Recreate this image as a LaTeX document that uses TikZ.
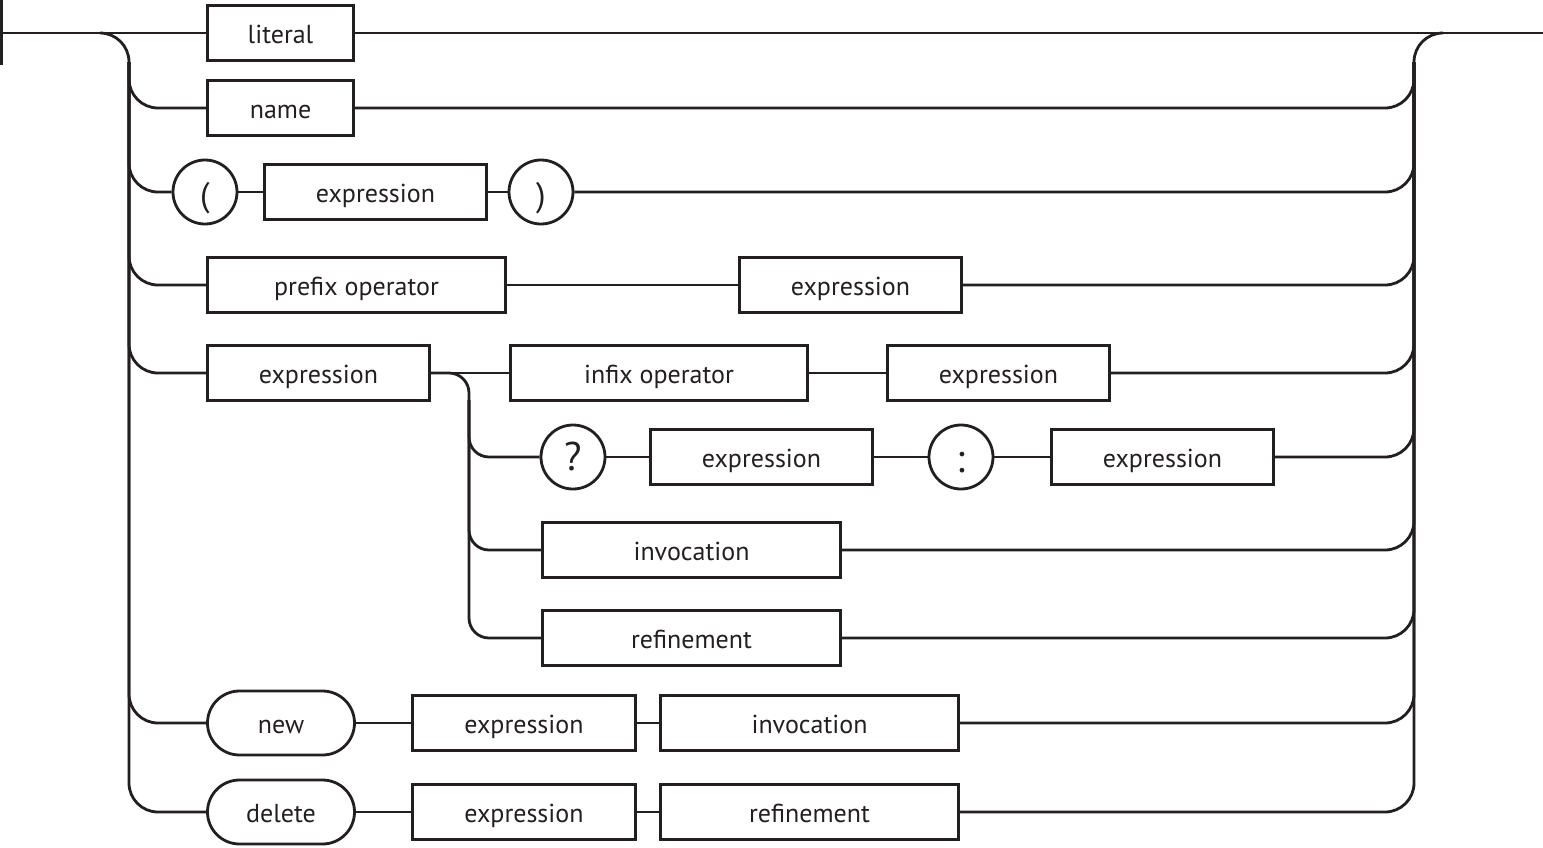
\documentclass[tikz,border=0pt]{standalone}
\usepackage{fontspec}
\setmainfont{PT Sans}
\definecolor{ink}{HTML}{231F20}
\begin{document}
\begin{tikzpicture}[x=1pt,y=-1pt,line width=2.8pt,draw=ink,
  every node/.style={text=ink,font=\fontsize{26}{30}\selectfont,inner sep=0pt,text height=22pt,text depth=2pt},
  nt/.style={draw=ink,rectangle,minimum height=55pt,minimum width=#1},
  tc/.style={draw=ink,circle,minimum size=64pt},
  paren/.style={font=\fontsize{34}{40}\selectfont,text height=30pt,text depth=2pt},
  qmark/.style={font=\fontsize{40}{46}\selectfont,text height=28pt,text depth=2pt},
  colon/.style={font=\fontsize{40}{46}\selectfont,text height=32pt,text depth=2pt},
  tw/.style={draw=ink,rectangle,rounded corners=32pt,minimum height=64pt,minimum width=147pt},
  rc/.style={rounded corners=29pt},
  rs/.style={rounded corners=20pt}]
\useasboundingbox (0,0) rectangle (1543,847);
% coordinates
\coordinate (start) at (1.4,33);
\coordinate (ticktop) at (1.4,0);
\coordinate (tickbot) at (1.4,65);
\coordinate (stop) at (1543,33);
\coordinate (lstart) at (100,33);
\coordinate (ldown) at (129,812);
\coordinate (ltop) at (129,62);
\coordinate (rtop) at (1414,62);
\coordinate (rcorner) at (1414,33);
\coordinate (rend) at (1443,33);
\coordinate (srail) at (469,638);
\coordinate (stop2) at (469,400);
% nodes
\node[nt=146pt] (lit) at (280.5,33) {literal};
\node[nt=146pt] (nam) at (280.5,108) {name};
\node[tc,paren] (lp) at (205,192) {(};
\node[nt=222pt] (pe) at (375.5,192) {expression};
\node[tc,paren] (rp) at (541,192) {)};
\node[nt=298pt] (pre) at (356.5,285) {prefix operator};
\node[nt=222pt] (pex) at (850.5,285) {expression};
\node[nt=222pt] (ex) at (318.5,373) {expression};
\node[nt=297pt] (inf) at (659,373) {infix operator};
\node[nt=222pt] (iex) at (998.5,373) {expression};
\node[tc,qmark] (q) at (573,457) {?};
\node[nt=222pt] (qe) at (761.5,457) {expression};
\node[tc,colon] (col) at (961,457) {:};
\node[nt=222pt] (ce) at (1162.5,457) {expression};
\node[nt=298pt] (inv) at (691.5,550) {invocation};
\node[nt=298pt] (ref) at (691.5,638) {refinement};
\node[tw] (new) at (281,723) {new};
\node[nt=223pt] (ne) at (524,723) {expression};
\node[nt=298pt] (ni) at (809.5,723) {invocation};
\node[tw] (del) at (281,812) {delete};
\node[nt=223pt] (de) at (524,812) {expression};
\node[nt=298pt] (dr) at (809.5,812) {refinement};
% main line
\draw (ticktop) -- (tickbot);
\draw (start) -- (lit);
\draw (lit) -- (stop);
% left rail
\draw[rc] (lstart) -| (ldown) -- (del.west);
\foreach \n in {nam,lp,pre,ex,new} \draw[rc] (ltop) |- (\n.west);
% right rail
\draw[rc] (dr.east) -| (rcorner) -- (rend);
\foreach \n in {nam,rp,pex,iex,ce,inv,ref,ni} \draw[rc] (\n.east) -| (rtop);
% rows
\draw (lp) -- (pe);
\draw (pe) -- (rp);
\draw (pre) -- (pex);
\draw (ex) -- (inf);
\draw (inf) -- (iex);
\draw (q) -- (qe);
\draw (qe) -- (col);
\draw (col) -- (ce);
\draw (new) -- (ne);
\draw (ne) -- (ni);
\draw (del) -- (de);
\draw (de) -- (dr);
% sub rail
\draw[rs] (ex.east) -| (srail) -- (ref.west);
\foreach \n in {q,inv} \draw[rs] (stop2) |- (\n.west);
\end{tikzpicture}
\end{document}
